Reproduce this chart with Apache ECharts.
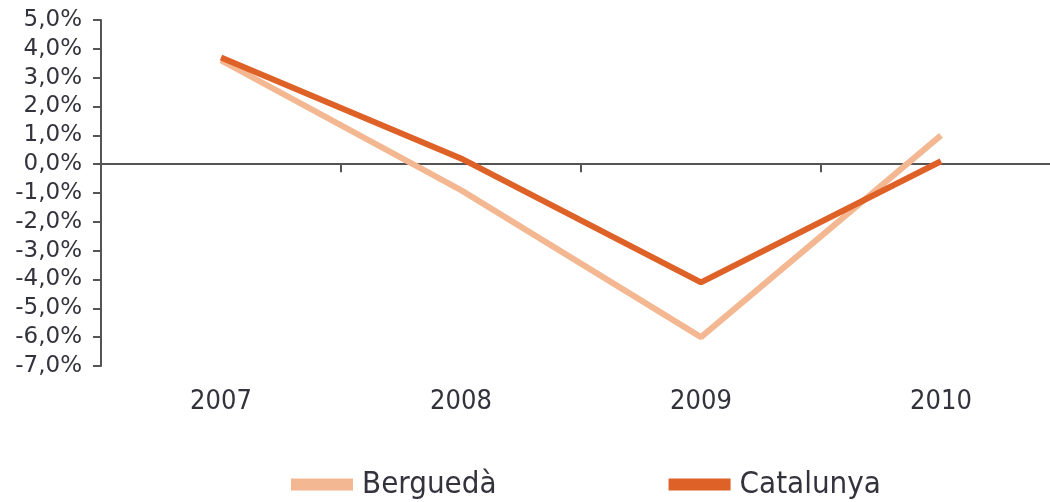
<!DOCTYPE html>
<html>

<head>
    <meta charset="UTF-8">
    <title>Berguedà - Catalunya</title>
    <script src="https://cdn.jsdelivr.net/npm/echarts@6/dist/echarts.min.js"></script>
</head>

<body style="margin:0;background:#fff;">
    <div id="chartBox" style="width:1050px;height:502px;"></div>

    <script>
        // dades
        var years = ['2007', '2008', '2009', '2010'];
        var bergueda = [3.6, -0.9, -6.0, 1.0];
        var catalunya = [3.7, 0.2, -4.1, 0.1];
        var seriesNames = ['Berguedà', 'Catalunya'];

        var textColor = '#33333d';
        var axisColor = '#555';

        function pct(v) {
            return v.toFixed(1).replace('.', ',') + '%';
        }

        var myChart = echarts.init(document.getElementById('chartBox'));

        var option = {
            animation: false,
            grid: {
                left: 101,
                width: 960,
                top: 20,
                bottom: 136,
                outerBoundsMode: 'none'
            },
            legend: {
                left: 291,
                top: 469,
                padding: 0,
                icon: 'rect',
                itemWidth: 62,
                itemHeight: 12,
                itemGap: 172,
                data: seriesNames,
                textStyle: {
                    color: textColor,
                    fontFamily: 'DejaVu Sans Condensed',
                    fontSize: 31,
                    padding: [0, 0, 0, 4]
                }
            },
            xAxis: [{
                    // línia del zero
                    type: 'category',
                    data: years,
                    position: 'bottom',
                    boundaryGap: true,
                    axisLine: {
                        onZero: true,
                        lineStyle: {
                            color: axisColor,
                            width: 2
                        }
                    },
                    axisTick: {
                        show: true,
                        length: 8,
                        lineStyle: {
                            color: axisColor,
                            width: 2
                        }
                    },
                    axisLabel: {
                        show: false
                    },
                    splitLine: {
                        show: false
                    }
                },
                {
                    // etiquetes a baix
                    type: 'category',
                    data: years,
                    position: 'bottom',
                    axisLine: {
                        show: false,
                        onZero: false
                    },
                    axisTick: {
                        show: false
                    },
                    axisLabel: {
                        margin: 22,
                        color: textColor,
                        fontFamily: 'DejaVu Sans Condensed',
                        fontSize: 27
                    },
                    splitLine: {
                        show: false
                    }
                }
            ],
            yAxis: {
                type: 'value',
                min: -7,
                max: 5,
                interval: 1,
                axisLine: {
                    show: true,
                    lineStyle: {
                        color: axisColor,
                        width: 2
                    }
                },
                axisTick: {
                    show: true,
                    length: 8,
                    lineStyle: {
                        color: axisColor,
                        width: 2
                    }
                },
                axisLabel: {
                    margin: 19,
                    color: textColor,
                    fontFamily: 'DejaVu Sans',
                    fontSize: 23,
                    formatter: pct
                },
                splitLine: {
                    show: false
                }
            },
            series: [{
                    name: seriesNames[0],
                    type: 'line',
                    xAxisIndex: 0,
                    data: bergueda,
                    symbol: 'none',
                    lineStyle: {
                        width: 6,
                        color: '#f3b892'
                    },
                    itemStyle: {
                        color: '#f3b892'
                    }
                },
                {
                    name: seriesNames[1],
                    type: 'line',
                    xAxisIndex: 0,
                    data: catalunya,
                    symbol: 'none',
                    lineStyle: {
                        width: 6,
                        color: '#de6127'
                    },
                    itemStyle: {
                        color: '#de6127'
                    }
                }
            ]
        };

        myChart.setOption(option);
    </script>

</body>

</html>
